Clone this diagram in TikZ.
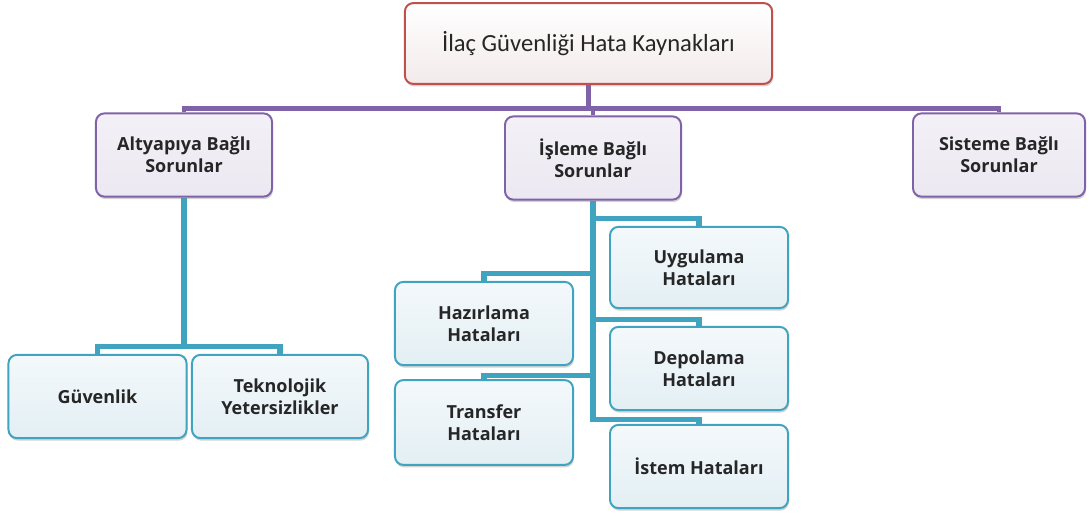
\documentclass[tikz,border=0pt]{standalone}
\usepackage{fontspec}
\setmainfont{Open Sans}
\newfontfamily\titlefont{Carlito}
\usetikzlibrary{shadows,backgrounds}
\definecolor{textgray}{HTML}{262626}
\definecolor{redline}{HTML}{C0504D}
\definecolor{redfill}{HTML}{F3EAEA}
\definecolor{purpline}{HTML}{7F62A8}
\definecolor{purpfill}{HTML}{EBE8F1}
\definecolor{tealline}{HTML}{40A3C0}
\definecolor{tealfill}{HTML}{E3EFF4}

\begin{document}
\begin{tikzpicture}[x=0.025cm, y=-0.025cm,
    every node/.style={font=\bfseries\fontsize{12.8}{15.5}\selectfont, text=textgray, align=center},
    basebox/.style={draw, line width=1.4pt, rounded corners=6pt, inner sep=2pt,
      minimum height=2.08cm, drop shadow={opacity=0.35, shadow xshift=0.6pt, shadow yshift=-1.8pt}},
    topbox/.style={basebox, draw=redline, top color=white, bottom color=redfill,
      minimum width=9.18cm, minimum height=2.02cm, font=\titlefont\fontsize{17.5}{20}\selectfont},
    sorunbox/.style={basebox, draw=purpline, top color=purpfill!60, bottom color=purpfill,
      minimum width=4.4cm},
    hatabox/.style={basebox, draw=tealline, top color=tealfill!40, bottom color=tealfill,
      minimum width=4.45cm},
    pline/.style={draw=purpline, line width=3pt},
    tline/.style={draw=tealline, line width=3.6pt}]

    \useasboundingbox (0,0) rectangle (1090,518);

    \node[topbox] (kaynak) at (588.5,43.5) {İlaç Güvenliği Hata Kaynakları};

    \node[sorunbox] (altyapi) at (184,155) {Altyapıya Bağlı\\Sorunlar};
    \node[sorunbox] (isleme) at (593,158) {İşleme Bağlı\\Sorunlar};
    \node[sorunbox, minimum width=4.3cm] (sistem) at (999,155) {Sisteme Bağlı\\Sorunlar};

    \node[hatabox] (guvenlik) at (97.5,396.5) {Güvenlik};
    \node[hatabox, minimum width=4.4cm] (teknoloji) at (280,396.5) {Teknolojik\\Yetersizlikler};

    \node[hatabox, minimum height=2.03cm] (uygulama) at (699,267.5) {Uygulama\\Hataları};
    \node[hatabox] (hazirlama) at (484,323.5) {Hazırlama\\Hataları};
    \node[hatabox] (depolama) at (699,368.5) {Depolama\\Hataları};
    \node[hatabox, minimum height=2.12cm] (transfer) at (484,422.5) {Transfer\\Hataları};
    \node[hatabox] (istem) at (699,466.5) {İstem Hataları};

    \begin{scope}[on background layer]
      \draw[pline] (altyapi.north) -- ++(0,-4) -| (kaynak.south);
      \draw[pline] (sistem.north) -- ++(0,-4) -| (kaynak.south);
      \draw[pline] (isleme.north) -- ++(0,-7) -| (kaynak.south);

      \draw[tline] (guvenlik.north) -- ++(0,-7) -| (altyapi.south);
      \draw[tline] (teknoloji.north) -- ++(0,-7) -| (altyapi.south);

      \draw[tline] (uygulama.north) -- ++(0,-7) -| (isleme.south);
      \draw[tline] (hazirlama.north) -- ++(0,-7) -| (isleme.south);
      \draw[tline] (depolama.north) -- ++(0,-6) -| (isleme.south);
      \draw[tline] (transfer.north) -- ++(0,-4) -| (isleme.south);
      \draw[tline] (istem.north) -- ++(0,-4) -| (isleme.south);
    \end{scope}
\end{tikzpicture}
\end{document}
